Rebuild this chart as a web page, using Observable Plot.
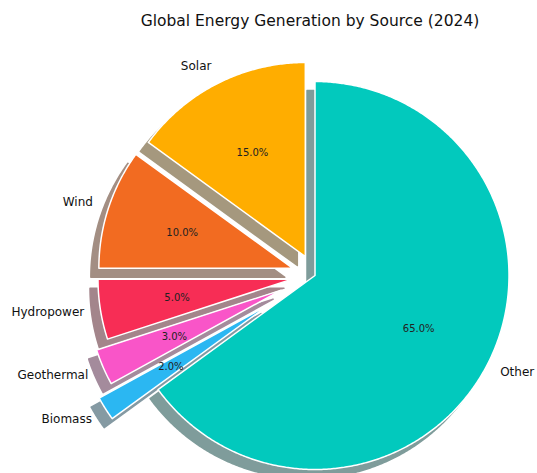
<!DOCTYPE html>
<html><head><meta charset="utf-8">
<script src="https://cdn.jsdelivr.net/npm/d3@7"></script>
<script src="https://cdn.jsdelivr.net/npm/@observablehq/plot@0.6"></script>
<style>body{margin:0;background:#fff;} #chart{width:537px;height:473px;}</style>
</head><body><div id="chart"></div>
<script>
// ---- data ----
const title = "Global Energy Generation by Source (2024)";
const sources = ["Solar", "Wind", "Hydropower", "Geothermal", "Biomass", "Other"];
const shares = [15, 10, 5, 3, 2, 65];
const explode = [0.11, 0.12, 0.12, 0.19, 0.28, 0];
const colors = ["#FFAD00", "#F26B21", "#F72D55", "#F955C8", "#2BB7F2", "#02C9BD"];

// ---- layout ----
const W = 537, H = 473, R = 194, cx = 314.5, cy = 275;
const shadowOffset = [-8 / R, -9 / R];

const arcs = d3.pie().sort(null).startAngle(0).endAngle(-2 * Math.PI)(shares);
const total = d3.sum(shares);

const wedgePts = [];
const slices = arcs.map((a, i) => {
  const s = a.startAngle, e = a.endAngle, m = (s + e) / 2;
  const ox = explode[i] * Math.sin(m), oy = explode[i] * Math.cos(m);
  const pts = [{name: sources[i], x: ox, y: oy}];
  const n = Math.max(2, Math.ceil(Math.abs(e - s) / (Math.PI / 360)));
  for (let k = 0; k <= n; k++) {
    const t = s + (e - s) * k / n;
    pts.push({name: sources[i], x: ox + Math.sin(t), y: oy + Math.cos(t)});
  }
  wedgePts.push(...pts);
  const c = d3.rgb(colors[i]);
  return {
    name: sources[i],
    pts,
    shadow: d3.rgb(c.r * 0.3, c.g * 0.3, c.b * 0.3).formatHex(),
    lx: ox + 1.1 * Math.sin(m), ly: oy + 1.1 * Math.cos(m),
    px: ox + 0.6 * Math.sin(m), py: oy + 0.6 * Math.cos(m),
    pct: (shares[i] / total * 100).toFixed(1) + "%",
    left: Math.sin(m) < 0
  };
});

const shadowMarks = slices.map(s =>
  Plot.line(s.pts, {
    x: d => d.x + shadowOffset[0], y: d => d.y + shadowOffset[1],
    fill: s.shadow, stroke: s.shadow, strokeWidth: 1.5, opacity: 0.5, curve: "linear-closed"
  })
);

const chart = Plot.plot({
  width: W, height: H,
  marginTop: 0, marginRight: 0, marginBottom: 0, marginLeft: 0,
  x: {domain: [-cx / R, (W - cx) / R], axis: null},
  y: {domain: [-(H - cy) / R, cy / R], axis: null},
  color: {domain: sources, range: colors},
  style: {fontFamily: "DejaVu Sans", fontSize: "12px", background: "white", color: "#111"},
  marks: [
    ...shadowMarks,
    Plot.line(wedgePts, {x: "x", y: "y", z: "name", fill: "name", stroke: "white", strokeWidth: 1.5, curve: "linear-closed"}),
    Plot.text(slices.filter(d => d.left), {x: "lx", y: "ly", text: "name", textAnchor: "end", dx: 3, fontSize: 12, fill: "#111"}),
    Plot.text(slices.filter(d => !d.left), {x: "lx", y: "ly", text: "name", textAnchor: "start", dx: -5, fontSize: 12, fill: "#111"}),
    Plot.text(slices, {x: "px", y: "py", text: "pct", textAnchor: "middle", fontSize: 10, fill: "#222"}),
    Plot.text([title], {frameAnchor: "top", lineAnchor: "middle", dx: 41, dy: 21, fontSize: 15.5, fill: "#111"})
  ]
});
document.getElementById("chart").append(chart);
</script>
</body></html>
